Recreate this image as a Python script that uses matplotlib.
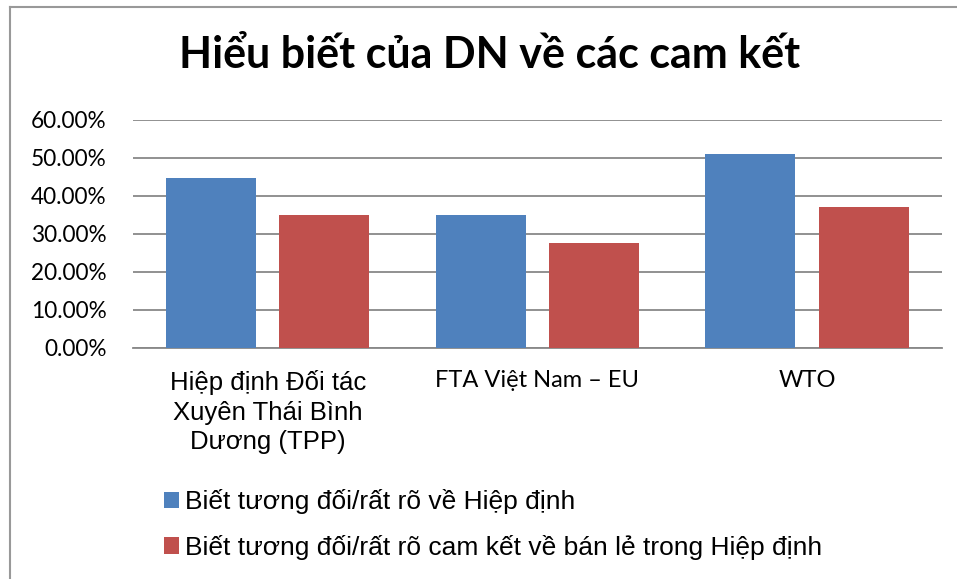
import matplotlib.pyplot as plt
import numpy as np
from matplotlib.lines import Line2D
from matplotlib.ticker import FuncFormatter

# du lieu doc tu hinh
nhom = ['Hiệp định Đối tác\nXuyên Thái Bình\nDương (TPP)', 'FTA Việt Nam – EU', 'WTO']
biet_hiep_dinh = [0.447, 0.350, 0.510]
biet_ban_le = [0.350, 0.276, 0.372]
ten_chuoi = ['Biết tương đối/rất rõ về Hiệp định',
             'Biết tương đối/rất rõ cam kết về bán lẻ trong Hiệp định']
mau = ['#4F81BD', '#C0504D']

fig = plt.figure(figsize=(9.57, 5.79), dpi=100)
ax = fig.add_axes([0.139, 0.399, 0.845, 0.394])

x = np.arange(len(nhom))
rong = 0.334
ax.bar(x - 0.21, biet_hiep_dinh, rong, color=mau[0], label=ten_chuoi[0], zorder=3)
ax.bar(x + 0.21, biet_ban_le, rong, color=mau[1], label=ten_chuoi[1], zorder=3)

ax.set_xlim(-0.5, 2.5)
ax.set_ylim(0, 0.6)
ax.set_yticks(np.arange(0, 0.61, 0.1))
ax.yaxis.set_major_formatter(FuncFormatter(lambda v, p: f'{v * 100:.2f}%'))
ax.grid(axis='y', color='#888888', linewidth=1.3, zorder=0)
for s in ['top', 'right', 'left']:
    ax.spines[s].set_visible(False)
ax.spines['bottom'].set_color('#888888')
ax.spines['bottom'].set_linewidth(1.3)
ax.tick_params(axis='both', length=0)
ax.tick_params(axis='y', pad=19, labelsize=16.3)
for t in ax.get_yticklabels():
    t.set_family('Lato')

ax.set_xticks(x)
ax.set_xticklabels(nhom, fontsize=17, linespacing=1.28, va='top')
ax.tick_params(axis='x', pad=16)
nhan = ax.get_xticklabels()
nhan[0].set_family('Liberation Sans')
nhan[0].set_fontsize(18.5)
for t in nhan[1:]:
    t.set_family('Lato')

fig.text(0.512, 0.905, 'Hiểu biết của DN về các cam kết', ha='center', va='center',
         fontsize=31, fontweight='bold', family='Lato')

leg = fig.legend(loc='center left', bbox_to_anchor=(0.171, 0.094), frameon=False,
                 prop={'family': 'Liberation Sans', 'size': 19},
                 handlelength=0.57, handleheight=0.57, handletextpad=0.23,
                 labelspacing=0.78, borderpad=0, borderaxespad=0)

# vien khung ben trai va ben tren
fig.add_artist(Line2D([0.0105, 0.0105], [0, 0.988], color='#999999', linewidth=1.5))
fig.add_artist(Line2D([0.0105, 1], [0.988, 0.988], color='#999999', linewidth=1.5))

fig.savefig('out.png', dpi=100)
